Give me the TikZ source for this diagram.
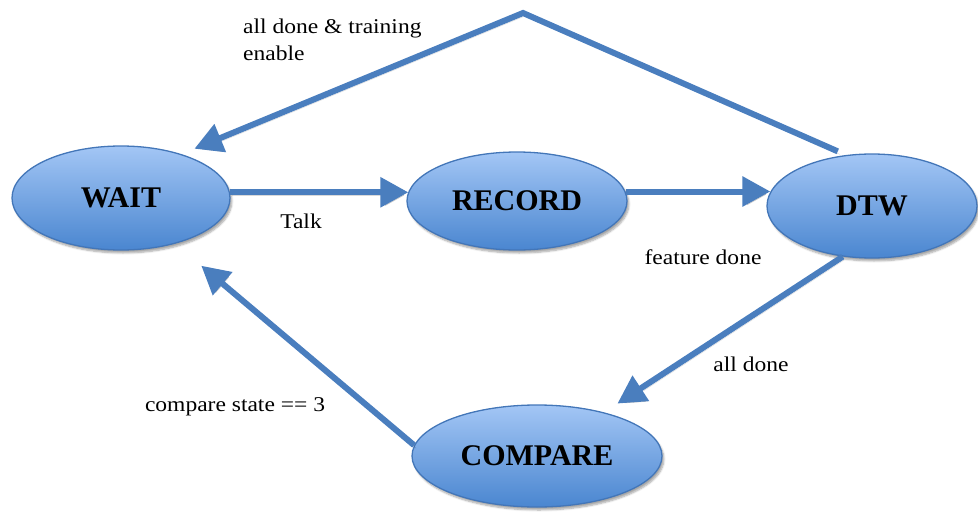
\documentclass[tikz,border=0pt]{standalone}
\usepackage{fontspec}
\setmainfont{Liberation Serif}[FakeStretch=1.12]
\newfontfamily\statefont{Liberation Serif}
\usetikzlibrary{arrows.meta,shapes.geometric,shadows.blur}

\definecolor{edgeblue}{HTML}{4A7EBE}
\definecolor{rimblue}{HTML}{4376B8}
\definecolor{topblue}{HTML}{A3C6F5}
\definecolor{botblue}{HTML}{4A86D0}

\begin{document}
\begin{tikzpicture}[x=1pt,y=-1pt,
  state/.style={ellipse, draw=rimblue, line width=1.3pt,
    top color=topblue, bottom color=botblue, inner sep=0pt,
    font=\statefont\bfseries\fontsize{30}{30}\selectfont,
    blur shadow={shadow xshift=2pt, shadow yshift=-3pt,
      shadow opacity=35, shadow blur steps=6}},
  flow/.style={draw=edgeblue, line width=6pt, line join=miter,
    -{Triangle[length=28pt,width=29pt]},
    preaction={draw=black, draw opacity=0.15, fill opacity=0.15,
      transform canvas={shift={(2pt,-3pt)}}}},
  lbl/.style={font=\fontsize{21}{27}\selectfont, text=black, inner sep=0pt}]

\useasboundingbox (0,0) rectangle (978,514);

% states
\node[state, minimum width=218pt, minimum height=104pt] (wait)    at (121,198) {WAIT};
\node[state, minimum width=220pt, minimum height=98pt]  (record)  at (517,201) {RECORD};
\node[state, minimum width=210pt, minimum height=104pt] (dtw)     at (872,206) {DTW};
\node[state, minimum width=250pt, minimum height=102pt] (compare) at (537,456) {COMPARE};

\coordinate (apex) at (523,13);

% transitions
\draw[flow, shorten >=-2pt] (wait.3) -- (record.west |- wait.3);
\draw[flow, shorten >=-4pt] (record.5) -- (dtw.west |- record.5);
\draw[flow, shorten <=9pt, shorten >=14pt] (dtw.117) -- (apex) -- (wait.36);
\draw[flow, shorten >=96pt] (dtw.240) -- (compare.center);
\draw[flow, shorten >=105pt] (compare.175) -- (wait.center);

% transition labels
\node[lbl] (talk) at (301,221) {Talk};
\node[lbl] (feat) at (703,257) {feature done};
\node[lbl] (alld) at (751,364) {all done};
\node[lbl] (cmp)  at (235,407) {compare state == 3};
\node[lbl, anchor=north west, align=left] (train) at (243,19)
  {all done \& training\\enable};
\end{tikzpicture}
\end{document}
